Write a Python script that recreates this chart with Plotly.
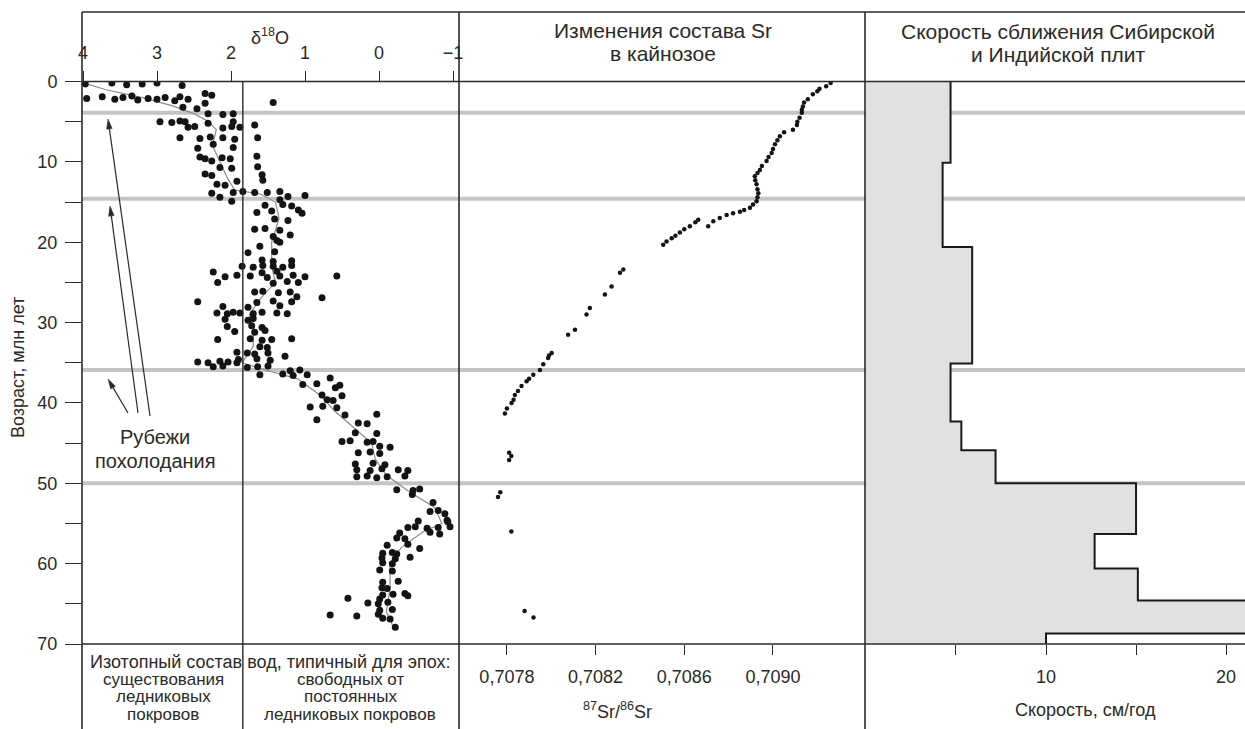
import math
import plotly.graph_objects as go

# ---------------- data ----------------
# delta 18O scatter: age (Ma) and value (per mil)
d18o_age = [
    0.3, 0.2, 0.4, 0.3, 0.2, 0.5,
    1.5, 1.7,
    2.1, 1.9, 2.2, 2.0, 1.8, 2.3, 2.1, 2.2, 2.0, 2.4, 1.9, 2.2,
    2.6, 2.7,
    3.4, 3.2,
    4.0, 4.1, 4.0,
    5.0, 5.1, 4.9, 5.0, 5.2, 5.0,
    5.4,
    5.7, 5.6, 5.8, 5.6, 5.7,
    7.0, 7.1, 6.9, 7.0, 7.2, 7.0,
    7.8,
    8.3, 8.2,
    9.4, 9.6, 9.5, 9.6, 9.3,
    9.9,
    10.7, 10.8, 10.6,
    11.5, 11.7, 11.6,
    12.3, 12.4,
    12.8, 12.9,
    13.9, 13.8, 13.7, 13.8, 13.8, 13.7,
    14.4, 14.3, 14.2,
    14.9, 14.7,
    15.4, 15.3, 15.5,
    16.3, 16.1, 16.0, 16.4,
    17.1, 17.3,
    18.4, 18.3, 18.5,
    19.1, 19.3,
    19.8, 20.0,
    20.5,
    21.3, 21.2,
    22.2, 22.4, 22.3,
    23.0, 23.1, 22.9, 23.0, 23.1, 22.9,
    23.7, 23.8, 23.6,
    24.3, 24.1, 24.2, 24.4, 24.2, 24.1, 24.3, 24.2,
    25.0, 25.1, 24.9, 25.0,
    26.2, 26.1, 26.3, 26.2,
    26.8, 26.9,
    27.4, 27.5, 27.3, 27.4,
    28.0, 28.1, 27.9,
    28.8, 28.9, 28.7, 28.8, 28.9, 28.7, 28.8, 28.9,
    29.6, 29.7, 29.5,
    30.5, 30.4, 30.6,
    31.1, 31.2, 31.0,
    32.1, 32.0, 32.2, 32.1, 32.0,
    33.0, 33.1,
    33.7, 33.8, 33.9, 33.8,
    34.2,
    34.6, 34.5, 34.7,
    34.9, 35.0, 34.8, 34.9, 35.0,
    35.5, 35.4, 35.6, 35.5, 35.4,
    35.9, 36.0,
    36.5, 36.4, 36.6, 36.5,
    36.9,
    37.7, 37.6, 37.8,
    38.1,
    39.0, 39.1,
    39.6, 39.7,
    40.5, 40.4, 40.6,
    41.5, 41.4,
    42.1,
    42.5, 42.6,
    43.7, 43.8,
    44.8, 44.7, 44.9, 44.8,
    45.4, 45.5,
    46.2, 46.1, 46.3,
    47.6, 47.5, 47.7,
    48.3, 48.4, 48.2, 48.3, 48.4,
    49.2, 49.1, 49.3, 49.2, 49.1,
    50.8, 50.9, 50.7,
    51.4,
    52.4,
    53.5, 53.4,
    53.8,
    54.7, 54.6, 54.8,
    55.5, 55.4, 55.6, 55.5, 55.4,
    56.2, 56.1, 56.3,
    56.8, 56.9,
    57.7, 57.6,
    58.1,
    58.7, 58.6, 58.8,
    59.3, 59.4, 59.2,
    59.9, 60.0,
    60.8, 60.9,
    62.3, 62.2,
    63.0, 63.1,
    63.9, 63.8, 64.0, 63.7,
    64.3, 64.4,
    64.9, 65.0, 64.8,
    65.8, 65.7,
    66.4, 66.5, 66.3,
    66.8, 66.9,
    67.9,
]
d18o_val = [
    3.97, 3.61, 3.41, 3.2, 3.0, 2.66,
    2.35, 2.26,
    3.95, 3.74, 3.57, 3.46, 3.34, 3.26, 3.12, 3.0, 2.89, 2.76, 2.69, 2.58,
    1.43, 2.35,
    2.46, 2.65,
    2.31, 2.11, 1.97,
    2.96, 2.8, 2.69, 2.62, 2.31, 1.97,
    1.68,
    2.58, 2.49, 2.11, 1.99, 1.88,
    2.69, 2.42, 2.28, 2.11, 1.95, 1.64,
    2.24,
    2.45, 1.97,
    2.42, 2.35, 2.12, 2.01, 1.65,
    2.26,
    2.15, 1.99, 1.64,
    2.35, 2.26, 1.58,
    1.57, 1.92,
    2.19, 2.08,
    2.26, 1.97, 1.84, 1.68, 1.51, 1.34,
    2.15, 1.23, 1.0,
    1.99, 1.34,
    1.54, 1.3, 1.18,
    1.65, 1.45, 1.09, 1.04,
    1.41, 1.23,
    1.68, 1.54, 1.34,
    1.2, 1.43,
    1.38, 1.34,
    1.61,
    1.77, 1.41,
    1.58, 1.43, 1.18,
    1.85, 1.7, 1.57, 1.43, 1.3, 1.18,
    2.24, 1.58, 1.38,
    2.08, 1.92, 1.74, 1.51, 1.34, 1.16, 1.0, 0.57,
    2.18, 1.43, 1.24, 1.09,
    1.68, 1.57, 1.36, 1.2,
    1.11, 0.77,
    2.45, 1.65, 1.43, 1.18,
    2.11, 1.77, 1.34,
    2.19, 2.05, 1.97, 1.88, 1.7, 1.58, 1.38, 1.24,
    2.08, 1.77, 1.7,
    2.05, 1.72, 1.58,
    1.95, 1.68, 1.54,
    2.18, 1.74, 1.58, 1.45, 1.18,
    1.61, 1.51,
    1.92, 1.78, 1.68, 1.5,
    1.27,
    1.9, 1.65, 1.47,
    2.45, 2.31, 2.15, 2.04, 1.92,
    2.24, 2.11, 1.78, 1.64, 1.5,
    1.07, 1.2,
    1.61, 1.3, 1.16, 0.97,
    0.66,
    1.03, 0.84, 0.53,
    0.59,
    0.77, 0.5,
    0.70, 0.62,
    0.93, 0.76, 0.57,
    0.46, 0.03,
    0.84,
    0.28, 0.16,
    0.32, 0.03,
    0.5, 0.39, 0.16, 0.08,
    -0.01, -0.15,
    0.28, 0.12, -0.01,
    0.32, 0.08, -0.08,
    0.3, 0.12, -0.04, -0.26, -0.39,
    0.3, 0.16, 0.03, -0.11, -0.35,
    -0.24, -0.46, -0.55,
    -0.45,
    -0.73,
    -0.69, -0.8,
    -0.89,
    -0.53, -0.92, -0.93,
    -0.39, -0.49, -0.65, -0.8, -0.96,
    -0.28, -0.69, -0.82,
    -0.24, -0.35,
    -0.11, -0.39,
    -0.55,
    -0.05, -0.18, -0.24,
    -0.04, -0.22, -0.42,
    -0.05, -0.18,
    -0.01, -0.18,
    -0.05, -0.26,
    -0.04, -0.11,
    -0.05, -0.19, -0.39, -0.35,
    0.42, -0.01,
    0.15, 0.01, -0.12,
    -0.01, -0.18,
    0.66, 0.3, 0.01,
    -0.05, -0.15,
    -0.22,
]

# smoothed delta 18O curve (thin gray line)
d18o_trend_age = [0.3, 1.0, 2.0, 3.0, 4.0, 5.0, 6.0, 8.0, 10.0, 12.0, 13.5, 14.0, 15.0, 17.0,
                  20.0, 23.0, 25.0, 27.0, 29.0, 31.0, 33.0, 35.0, 36.0, 37.0, 39.0, 41.0,
                  43.0, 45.0, 47.0, 49.0, 51.0, 53.0, 55.0, 56.0, 58.0, 60.0, 63.0, 66.0, 68.0]
d18o_trend_val = [3.95, 3.7, 3.2, 2.8, 2.5, 2.3, 2.2, 2.25, 2.15, 2.05, 1.95, 1.6, 1.4, 1.35,
                  1.45, 1.45, 1.4, 1.6, 1.75, 1.7, 1.7, 1.85, 1.5, 1.1, 0.8, 0.6,
                  0.35, 0.1, 0.05, -0.1, -0.4, -0.75, -0.85, -0.6, -0.3, -0.15, -0.15, -0.1, -0.2]

# 87Sr/86Sr
sr_age = [0.2, 0.6, 0.9, 1.2, 1.6, 2.2, 2.6, 3.1, 3.5, 3.9, 4.5, 5.0, 5.4, 6.0, 6.3, 6.8,
          7.3, 7.8, 8.4, 8.9, 9.4, 9.9, 10.5, 11.0, 11.4, 11.8, 12.3, 12.8, 13.4, 13.9,
          14.4, 14.9, 15.3, 15.7, 16.0, 16.2, 16.4, 16.6, 17.0, 17.4, 18.0, 17.2, 17.5,
          18.0, 18.4, 18.8, 19.2, 19.5, 19.9, 20.3, 23.4, 23.8, 25.5, 26.5, 28.2, 29.0,
          30.9, 31.5, 33.8, 34.1, 34.4, 35.2, 35.9, 36.5, 37.0, 37.3, 37.9, 38.5, 39.0,
          39.6, 40.0, 40.7, 41.3, 46.2, 46.6, 47.1, 51.1, 51.7, 56.0, 65.9, 66.7]
sr_ratio = [0.70926, 0.70924, 0.70921, 0.70920, 0.70918, 0.709157, 0.70914, 0.709135,
            0.70913, 0.70913, 0.70912, 0.70911, 0.709108, 0.70909, 0.70905, 0.709031,
            0.70902, 0.709009, 0.70900, 0.708994, 0.70898, 0.708971, 0.70895, 0.708941,
            0.70893, 0.708918, 0.70892, 0.708926, 0.70893, 0.708934, 0.70893, 0.708926,
            0.70891, 0.708896, 0.70887, 0.708851, 0.70882, 0.708791, 0.70876, 0.708731,
            0.708708, 0.708663, 0.70865, 0.708625, 0.70860, 0.70858, 0.70856, 0.708543,
            0.70852, 0.708505, 0.708325, 0.70831, 0.708272, 0.708242, 0.708174, 0.708159,
            0.708107, 0.708076, 0.708002, 0.70799, 0.707986, 0.707964, 0.707949, 0.707919,
            0.70790, 0.707889, 0.707866, 0.70785, 0.707836, 0.70783, 0.707821, 0.70780,
            0.707791, 0.70781, 0.70782, 0.70781, 0.70777, 0.70776, 0.70782, 0.70788, 0.70792]

# convergence rate of the Siberian and Indian plates (step profile)
speed_start_age = [0, 10.1, 20.6, 35.1, 42.3, 45.9, 50.0, 56.3, 60.6, 64.6, 68.7]
speed_value = [4.7, 4.26, 5.9, 4.7, 5.3, 7.2, 15.0, 12.7, 15.1, 23.0, 10.0]
speed_end_age = 70

cooling_ages = [3.9, 14.6, 35.9, 50.0]
glacial_boundary_d18o = 1.84

age_major_ticks = [0, 10, 20, 30, 40, 50, 60, 70]
age_minor_ticks = [5, 15, 25, 35, 45, 55, 65]
d18o_ticks = [4, 3, 2, 1, 0, -1]
d18o_ticklabels = ["4", "3", "2", "1", "0", "\u22121"]
sr_ticks = [0.7078, 0.7082, 0.7086, 0.7090]
sr_ticklabels = ["0,7078", "0,7082", "0,7086", "0,7090"]
speed_major_ticks = [10, 20]
speed_minor_ticks = [5, 15]

# ---------------- layout helpers ----------------
W, H = 1245, 729
FONT = "Liberation Sans, Arial, sans-serif"
INK = "#2a2a2a"


def px(x):
    return x / W


def py(y):
    return 1 - y / H


fig = go.Figure()

fig.add_trace(go.Scatter(x=d18o_trend_val, y=d18o_trend_age, mode="lines",
                         line=dict(color="#8c8c8c", width=1.2), xaxis="x", yaxis="y",
                         hoverinfo="skip"))
fig.add_trace(go.Scatter(x=d18o_val, y=d18o_age, mode="markers",
                         marker=dict(size=7, color="#141414"), xaxis="x", yaxis="y"))
fig.add_trace(go.Scatter(x=sr_ratio, y=sr_age, mode="markers",
                         marker=dict(size=4.5, color="#141414"), xaxis="x2", yaxis="y"))
fig.add_trace(go.Scatter(x=speed_value + [speed_value[-1]],
                         y=speed_start_age + [speed_end_age],
                         mode="lines", line=dict(color="#1a1a1a", width=2, shape="vh"),
                         fill="tozerox", fillcolor="#e1e1e1", xaxis="x3", yaxis="y"))

axis_common = dict(showgrid=False, zeroline=False, showline=False, ticks="outside",
                   automargin=False, tickcolor=INK, tickwidth=1,
                   tickfont=dict(family=FONT, size=18, color=INK))

fig.update_layout(
    width=W, height=H,
    margin=dict(l=0, r=0, t=0, b=0, pad=0, autoexpand=False),
    paper_bgcolor="white", plot_bgcolor="white",
    showlegend=False,
    yaxis=dict(domain=[py(644), py(81.5)], range=[70, 0], anchor="x",
               tickvals=age_major_ticks, ticklen=16, ticklabelstandoff=4,
               minor=dict(tickvals=age_minor_ticks, ticks="outside", ticklen=16,
                          tickcolor=INK, tickwidth=1, showgrid=False),
               **axis_common),
    xaxis=dict(domain=[px(82), px(459)], range=[4.0135, -1.081], side="top", anchor="y",
               tickvals=d18o_ticks, ticktext=d18o_ticklabels, ticklen=10,
               ticklabelstandoff=4, **axis_common),
    xaxis2=dict(domain=[px(459), px(865)], range=[0.707584, 0.709415], side="bottom",
                anchor="y", tickvals=sr_ticks, ticktext=sr_ticklabels, ticklen=10,
                ticklabelstandoff=6, **axis_common),
    xaxis3=dict(domain=[px(865), 1], range=[-0.05, 21.05], side="bottom", anchor="y",
                tickvals=speed_major_ticks, ticklen=10, ticklabelstandoff=6,
                minor=dict(tickvals=speed_minor_ticks, ticks="outside", ticklen=10,
                           tickcolor=INK, tickwidth=1, showgrid=False),
                **axis_common),
)

shapes = []
for a in cooling_ages:
    shapes.append(dict(type="line", xref="paper", yref="y", x0=px(82), x1=1, y0=a, y1=a,
                       line=dict(color="#c4c4c4", width=4), layer="below"))
frame = dict(color=INK, width=1.6)
for (x0, y0, x1, y1) in [(82, 12, 1245, 12), (82, 81.5, 1245, 81.5), (82, 644, 1245, 644),
                         (82, 12, 82, 729), (459, 12, 459, 729), (865, 12, 865, 729)]:
    shapes.append(dict(type="line", xref="paper", yref="paper", x0=px(x0), x1=px(x1),
                       y0=py(y0), y1=py(y1), line=frame, layer="above"))
shapes.append(dict(type="line", xref="x", yref="paper", x0=glacial_boundary_d18o,
                   x1=glacial_boundary_d18o, y0=0, y1=py(81.5),
                   line=dict(color=INK, width=1.4), layer="above"))

# arrows pointing to the cooling boundaries (line + filled head), pixel positions
for (hx, hy, tx, ty) in [(108, 119, 150, 416), (110, 206, 138, 413), (108, 379, 128, 413)]:
    d = math.hypot(hx - tx, hy - ty)
    ux, uy = (hx - tx) / d, (hy - ty) / d
    nx, ny = -uy, ux
    L, w = 10, 2.8
    bx, by = hx - L * ux, hy - L * uy
    shapes.append(dict(type="line", xref="paper", yref="paper", x0=px(tx), y0=py(ty),
                       x1=px(bx), y1=py(by), line=dict(color=INK, width=1.2)))
    p1 = (px(hx), py(hy))
    p2 = (px(bx + w * nx), py(by + w * ny))
    p3 = (px(bx - w * nx), py(by - w * ny))
    path = f"M {p1[0]} {p1[1]} L {p2[0]} {p2[1]} L {p3[0]} {p3[1]} Z"
    shapes.append(dict(type="path", xref="paper", yref="paper", path=path,
                       fillcolor=INK, line=dict(color=INK, width=0.5)))
fig.update_layout(shapes=shapes)


def label(text, x, y, size=17, angle=0):
    fig.add_annotation(text=text, xref="paper", yref="paper", x=px(x), y=py(y),
                       showarrow=False, textangle=angle, xanchor="center", yanchor="middle",
                       font=dict(family=FONT, size=size, color=INK))


label("\u03b4<sup>18</sup>O", 270, 36, size=18)
label("Изменения состава Sr", 663, 31, size=21)
label("в кайнозое", 663, 53, size=21)
label("Скорость сближения Сибирской", 1058, 32, size=21)
label("и Индийской плит", 1058, 54, size=21)
label("Возраст, млн лет", 18, 368, size=18, angle=-90)
label("Рубежи", 155, 437, size=20)
label("похолодания", 155, 461, size=20)
label("Изотопный состав вод, типичный для эпох:", 270, 662, size=18)
label("существования", 163, 679, size=17)
label("ледниковых", 163, 696, size=17)
label("покровов", 163, 714, size=17)
label("свободных от", 350, 679, size=17)
label("постоянных", 350, 696, size=17)
label("ледниковых покровов", 350, 714, size=17)
label("<sup>87</sup>Sr/<sup>86</sup>Sr", 617, 710, size=18)
label("Скорость, см/год", 1085, 710, size=18)

fig.write_html("out.html", config={"displayModeBar": False},
               post_script="document.body.style.margin='0';")
